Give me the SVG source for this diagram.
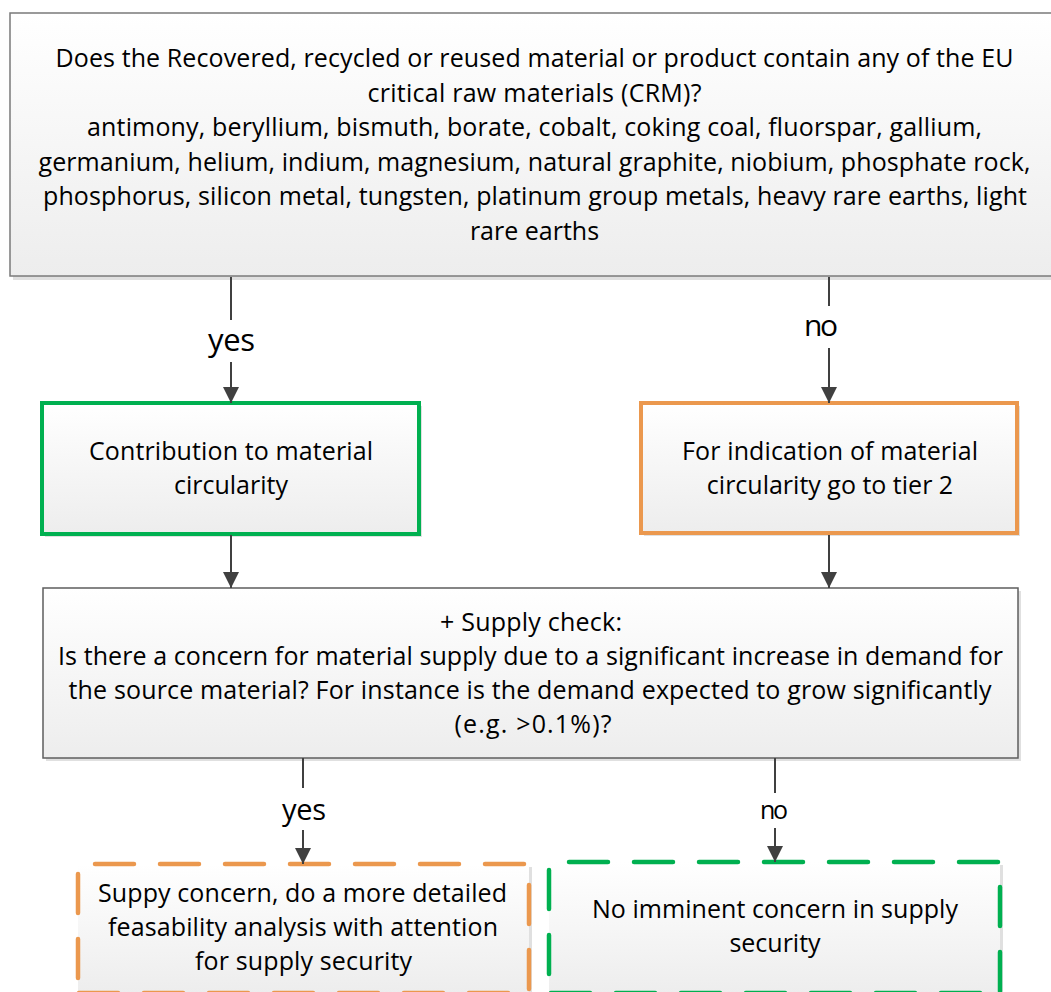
<svg xmlns="http://www.w3.org/2000/svg" width="1051" height="992" viewBox="0 0 1051 992">
<style>
.t{font-family:"Open Sans","Liberation Sans",sans-serif;font-size:25px;fill:#000;text-anchor:middle}
.lbl{font-family:"Open Sans","Liberation Sans",sans-serif;fill:#000;text-anchor:middle}
.shadow{fill:#E0E0E0}
.box{fill:url(#g)}
.conn{stroke:#404040;stroke-width:2;fill:none}
.od{stroke:#EB984E;stroke-width:4.5;stroke-linecap:round;stroke-dasharray:39 26;fill:none}
.gd{stroke:#00B050;stroke-width:4.5;stroke-linecap:round;stroke-dasharray:39 26;fill:none}
</style>
<defs>
<linearGradient id="g" x1="0" y1="0" x2="0" y2="1">
<stop offset="0" stop-color="#FFFFFF"/>
<stop offset="1" stop-color="#EDEDED"/>
</linearGradient>
<marker id="arr" markerUnits="userSpaceOnUse" markerWidth="16" markerHeight="16" viewBox="0 0 16 16" refX="16" refY="8" orient="auto">
<path d="M0,0 L16,8 L0,16 z" fill="#404040"/>
</marker>
</defs>
<rect width="1051" height="992" fill="#FFFFFF"/>

<g id="crm-question">
<rect class="shadow" x="13" y="17" width="1048" height="263"/>
<rect class="box" x="10" y="13" width="1048" height="263" stroke="#7A7A7A" stroke-width="1.5"/>
<text class="t" x="534.5" y="67" textLength="958">Does the Recovered, recycled or reused material or product contain any of the EU</text>
<text class="t" x="534.5" y="101.5" textLength="334">critical raw materials (CRM)?</text>
<text class="t" x="534.5" y="136" textLength="895">antimony, beryllium, bismuth, borate, cobalt, coking coal, fluorspar, gallium,</text>
<text class="t" x="534.5" y="170.5" textLength="992">germanium, helium, indium, magnesium, natural graphite, niobium, phosphate rock,</text>
<text class="t" x="535" y="205" textLength="984">phosphorus, silicon metal, tungsten, platinum group metals, heavy rare earths, light</text>
<text class="t" x="534.5" y="239.5">rare earths</text>
</g>

<g id="contribution">
<rect class="shadow" x="45" y="406" width="377" height="131"/>
<rect class="box" x="42" y="403" width="377" height="131" stroke="#00B050" stroke-width="4"/>
<text class="t" x="231" y="460" textLength="284">Contribution to material</text>
<text class="t" x="231" y="494">circularity</text>
</g>

<g id="tier2">
<rect class="shadow" x="644" y="406" width="376" height="130"/>
<rect class="box" x="641" y="403" width="376" height="130" stroke="#EB984E" stroke-width="4"/>
<text class="t" x="830" y="460" textLength="296">For indication of material</text>
<text class="t" x="830" y="494">circularity go to tier 2</text>
</g>

<g id="supply-check">
<rect class="shadow" x="46" y="591" width="975" height="170"/>
<rect class="box" x="43" y="588" width="975" height="170" stroke="#5E5E5E" stroke-width="1.5"/>
<text class="t" x="531" y="631" textLength="182">+ Supply check:</text>
<text class="t" x="530.5" y="665" textLength="945">Is there a concern for material supply due to a significant increase in demand for</text>
<text class="t" x="530" y="699" textLength="923">the source material? For instance is the demand expected to grow significantly</text>
<text class="t" x="533" y="733" textLength="157">(e.g. &gt;0.1%)?</text>
</g>

<g id="supply-concern">
<rect class="shadow" x="81" y="867" width="451" height="130"/>
<rect class="box" x="78" y="864" width="451" height="130"/>
<line class="od" x1="95" y1="864" x2="529" y2="864"/>
<line class="od" x1="78" y1="874" x2="78" y2="1000"/>
<line class="od" x1="529" y1="885" x2="529" y2="1000"/>
<line class="od" x1="79" y1="993" x2="529" y2="993"/>
<text class="t" x="302.5" y="902" textLength="409">Suppy concern, do a more detailed</text>
<text class="t" x="303" y="936" textLength="390">feasability analysis with attention</text>
<text class="t" x="303.5" y="970" textLength="217">for supply security</text>
</g>

<g id="no-concern">
<rect class="shadow" x="552" y="865" width="451" height="132"/>
<rect class="box" x="549" y="862" width="451" height="132"/>
<line class="gd" x1="569" y1="862" x2="1000" y2="862"/>
<line class="gd" x1="549" y1="870" x2="549" y2="1000"/>
<line class="gd" x1="1000" y1="887" x2="1000" y2="1000"/>
<line class="gd" x1="551" y1="993" x2="1000" y2="993"/>
<text class="t" x="775" y="918" textLength="366">No imminent concern in supply</text>
<text class="t" x="775" y="952">security</text>
</g>

<g id="connectors">
<line class="conn" x1="231" y1="277" x2="231" y2="320"/>
<line class="conn" x1="231" y1="362" x2="231" y2="403" marker-end="url(#arr)"/>
<text class="lbl" x="231.5" y="351" font-size="31" textLength="47">yes</text>
<line class="conn" x1="829" y1="277" x2="829" y2="306"/>
<line class="conn" x1="829" y1="348" x2="829" y2="403" marker-end="url(#arr)"/>
<text class="lbl" x="821" y="336" font-size="30" textLength="34">no</text>
<line class="conn" x1="231" y1="535" x2="231" y2="588" marker-end="url(#arr)"/>
<line class="conn" x1="829" y1="535" x2="829" y2="588" marker-end="url(#arr)"/>
<line class="conn" x1="303" y1="758" x2="303" y2="788"/>
<line class="conn" x1="303" y1="830" x2="303" y2="864" marker-end="url(#arr)"/>
<text class="lbl" x="304" y="820" font-size="29" textLength="44">yes</text>
<line class="conn" x1="775" y1="758" x2="775" y2="793"/>
<line class="conn" x1="775" y1="828" x2="775" y2="862" marker-end="url(#arr)"/>
<text class="lbl" x="774" y="819" font-size="25" textLength="28">no</text>
</g>
</svg>
